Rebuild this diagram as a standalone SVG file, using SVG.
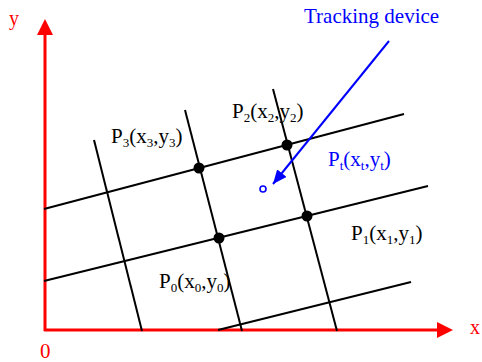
<svg xmlns="http://www.w3.org/2000/svg" width="482" height="362" viewBox="0 0 482 362">
<style>
.grid{stroke:#000;stroke-width:2;fill:none}
.axis{stroke:#f00;stroke-width:3;fill:none}
.dot{fill:#000}
.lbl{font-family:"Liberation Serif","Times New Roman",serif;font-size:21px;fill:#000}
.red{font-family:"Liberation Serif","Times New Roman",serif;font-size:20px;fill:#f00}
.blue{fill:#00f}
.sub{font-size:13px}
</style>
<defs>
<marker id="ah" viewBox="0 0 14 12" refX="14" refY="6" markerWidth="14" markerHeight="12" markerUnits="userSpaceOnUse" orient="auto">
<path d="M0,0 L14,6 L0,12 Z" fill="#00f"/>
</marker>
</defs>
<rect width="482" height="362" fill="#fff"/>
<g id="axes">
<line class="axis" x1="45" y1="331" x2="45" y2="34"/>
<polygon points="45,19 37,35 53,35" fill="#f00"/>
<line class="axis" x1="44" y1="330" x2="438" y2="330"/>
<polygon points="453,330 437,322 437,338" fill="#f00"/>
<text class="red" x="9" y="25">y</text>
<text class="red" x="470" y="334">x</text>
<text class="red" x="40" y="358" style="font-size:21px">0</text>
</g>
<g id="connectors">
<line class="grid" x1="44" y1="209" x2="404" y2="114"/>
<line class="grid" x1="44" y1="281" x2="428" y2="186"/>
<line class="grid" x1="218" y1="330" x2="411" y2="282"/>
<line class="grid" x1="94" y1="140" x2="142" y2="331"/>
<line class="grid" x1="185" y1="110" x2="242" y2="331"/>
<line class="grid" x1="273" y1="89" x2="337" y2="331"/>
<line x1="389" y1="41" x2="273" y2="184" stroke="#00f" stroke-width="2" marker-end="url(#ah)"/>
</g>
<g id="P3">
<circle class="dot" cx="199" cy="168" r="5.5"/>
<text class="lbl" x="111" y="143">P<tspan class="sub" dy="4">3</tspan><tspan dy="-4">(x</tspan><tspan class="sub" dy="4">3</tspan><tspan dy="-4">,y</tspan><tspan class="sub" dy="4">3</tspan><tspan dy="-4">)</tspan></text>
</g>
<g id="P2">
<circle class="dot" cx="287" cy="145" r="5.5"/>
<text class="lbl" x="232" y="118">P<tspan class="sub" dy="4">2</tspan><tspan dy="-4">(x</tspan><tspan class="sub" dy="4">2</tspan><tspan dy="-4">,y</tspan><tspan class="sub" dy="4">2</tspan><tspan dy="-4">)</tspan></text>
</g>
<g id="P1">
<circle class="dot" cx="307" cy="216" r="5.5"/>
<text class="lbl" x="351" y="240">P<tspan class="sub" dy="4">1</tspan><tspan dy="-4">(x</tspan><tspan class="sub" dy="4">1</tspan><tspan dy="-4">,y</tspan><tspan class="sub" dy="4">1</tspan><tspan dy="-4">)</tspan></text>
</g>
<g id="P0">
<circle class="dot" cx="219" cy="238" r="5.5"/>
<text class="lbl" x="159" y="288">P<tspan class="sub" dy="4">0</tspan><tspan dy="-4">(x</tspan><tspan class="sub" dy="4">0</tspan><tspan dy="-4">,y</tspan><tspan class="sub" dy="4">0</tspan><tspan dy="-4">)</tspan></text>
</g>
<g id="Pt">
<circle cx="263" cy="189" r="3" fill="#fff" stroke="#00f" stroke-width="1.6"/>
<text class="lbl blue" x="328" y="166">P<tspan class="sub" dy="4">t</tspan><tspan dy="-4">(x</tspan><tspan class="sub" dy="4">t</tspan><tspan dy="-4">,y</tspan><tspan class="sub" dy="4">t</tspan><tspan dy="-4">)</tspan></text>
</g>
<g id="tracking">
<text class="lbl blue" x="304" y="23">Tracking device</text>
</g>
</svg>
